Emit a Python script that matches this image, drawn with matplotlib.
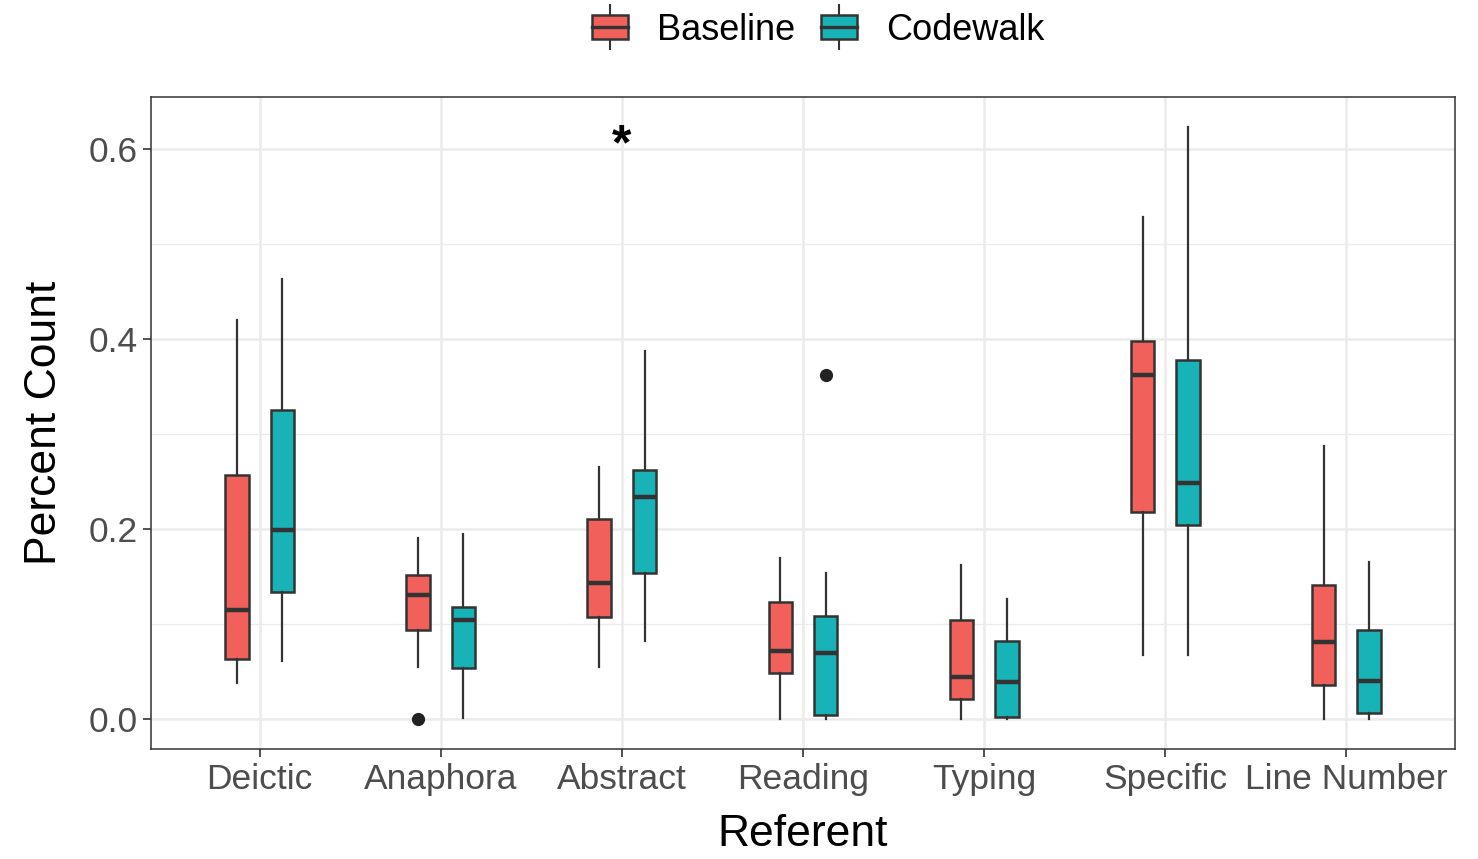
"""
Boxplots of referent percent counts, Baseline vs Codewalk.
"""

import matplotlib
matplotlib.use("Agg")
import matplotlib.pyplot as plt
from matplotlib.patches import Rectangle
from matplotlib.lines import Line2D
from matplotlib.legend_handler import HandlerBase

plt.rcParams["font.family"] = ["Liberation Sans", "DejaVu Sans"]

categories = ["Deictic", "Anaphora", "Abstract", "Reading", "Typing", "Specific", "Line Number"]
groups = ["Baseline", "Codewalk"]
colors = {"Baseline": "#F1605B", "Codewalk": "#18B3B7"}

# per category: (whisker low, Q1, median, Q3, whisker high)
baseline_stats = [
    (0.038, 0.064, 0.115, 0.257, 0.420),
    (0.055, 0.094, 0.131, 0.152, 0.191),
    (0.055, 0.108, 0.144, 0.211, 0.266),
    (0.000, 0.049, 0.072, 0.124, 0.170),
    (0.000, 0.022, 0.045, 0.105, 0.162),
    (0.068, 0.218, 0.362, 0.398, 0.529),
    (0.000, 0.036, 0.081, 0.141, 0.288),
]
codewalk_stats = [
    (0.061, 0.134, 0.199, 0.326, 0.463),
    (0.001, 0.054, 0.105, 0.118, 0.195),
    (0.083, 0.154, 0.234, 0.262, 0.388),
    (0.000, 0.005, 0.070, 0.109, 0.154),
    (0.000, 0.003, 0.039, 0.083, 0.127),
    (0.068, 0.205, 0.249, 0.378, 0.624),
    (0.000, 0.007, 0.040, 0.094, 0.166),
]
baseline_outliers = [[], [0.0], [], [], [], [], []]
codewalk_outliers = [[], [], [], [0.363], [], [], []]

# significance marker
star_category = "Abstract"
star_value = 0.603


def make_bxp_stats(stats, outliers):
    out = []
    for (lo, q1, med, q3, hi), fl in zip(stats, outliers):
        out.append({"whislo": lo, "q1": q1, "med": med, "q3": q3, "whishi": hi, "fliers": fl})
    return out


class BoxKeyHandler(HandlerBase):
    """Draw a ggplot-like boxplot key in the legend."""

    def create_artists(self, legend, orig_handle, xdescent, ydescent, width, height, fontsize, trans):
        x0, y0 = -xdescent, -ydescent
        cx = x0 + width / 2
        whisk = Line2D([cx, cx], [y0 - 0.4 * height, y0 + 1.4 * height], color="#333333", lw=1.5, transform=trans)
        box = Rectangle((x0, y0), width, height, facecolor=orig_handle.get_facecolor(),
                        edgecolor="#333333", lw=1.8, transform=trans)
        med = Line2D([x0, x0 + width], [y0 + height / 2] * 2, color="#333333", lw=2.4, transform=trans)
        return [whisk, box, med]


fig = plt.figure(figsize=(14.78, 8.59), dpi=100)
ax = fig.add_axes([0.1022, 0.128, 0.8822, 0.759])

positions = list(range(1, len(categories) + 1))
offset = 0.125
box_width = 0.13

for group, stats, fliers, shift in [
    ("Baseline", baseline_stats, baseline_outliers, -offset),
    ("Codewalk", codewalk_stats, codewalk_outliers, offset),
]:
    ax.bxp(
        make_bxp_stats(stats, fliers),
        positions=[p + shift for p in positions],
        widths=box_width,
        patch_artist=True,
        showcaps=False,
        boxprops=dict(facecolor=colors[group], edgecolor="#333333", linewidth=1.8),
        medianprops=dict(color="#333333", linewidth=3.2, solid_capstyle="butt"),
        whiskerprops=dict(color="#333333", linewidth=1.6),
        flierprops=dict(marker="o", markerfacecolor="#222222", markeredgecolor="#222222", markersize=8.5),
        zorder=3,
    )

star_x = positions[categories.index(star_category)]
ax.text(star_x, star_value, "*", ha="center", va="center", fontsize=36, fontweight="bold", zorder=4)

ax.set_xlim(0.4, 7.6)
ax.set_ylim(-0.0312, 0.655)
ax.set_xticks(positions)
ax.set_xticklabels(categories)
ax.set_yticks([0.0, 0.2, 0.4, 0.6])
ax.set_yticklabels(["0.0", "0.2", "0.4", "0.6"])
ax.set_yticks([0.1, 0.3, 0.5], minor=True)

ax.grid(True, which="major", color="#EBEBEB", linewidth=1.8, zorder=0)
ax.grid(True, which="minor", axis="y", color="#EBEBEB", linewidth=0.9, zorder=0)
ax.set_axisbelow(True)

ax.tick_params(axis="both", which="major", length=6, width=1.2, color="#333333",
               labelsize=25.5, labelcolor="#4D4D4D")
ax.tick_params(axis="y", which="minor", length=0)
ax.tick_params(axis="x", pad=4)
for spine in ax.spines.values():
    spine.set_color("#333333")
    spine.set_linewidth(1.1)

ax.set_xlabel("Referent", fontsize=32, labelpad=13)
ax.set_ylabel("Percent Count", fontsize=32, labelpad=17)

handles = [Rectangle((0, 0), 1, 1, facecolor=colors[g]) for g in groups]
fig.legend(
    handles, groups,
    handler_map={Rectangle: BoxKeyHandler()},
    loc="center", bbox_to_anchor=(0.5535, 0.965),
    ncol=2, frameon=False, fontsize=26,
    handlelength=1.0, handleheight=0.65, handletextpad=0.8, columnspacing=0.72,
    borderpad=0.0,
)

fig.savefig("out.png", dpi=100)
